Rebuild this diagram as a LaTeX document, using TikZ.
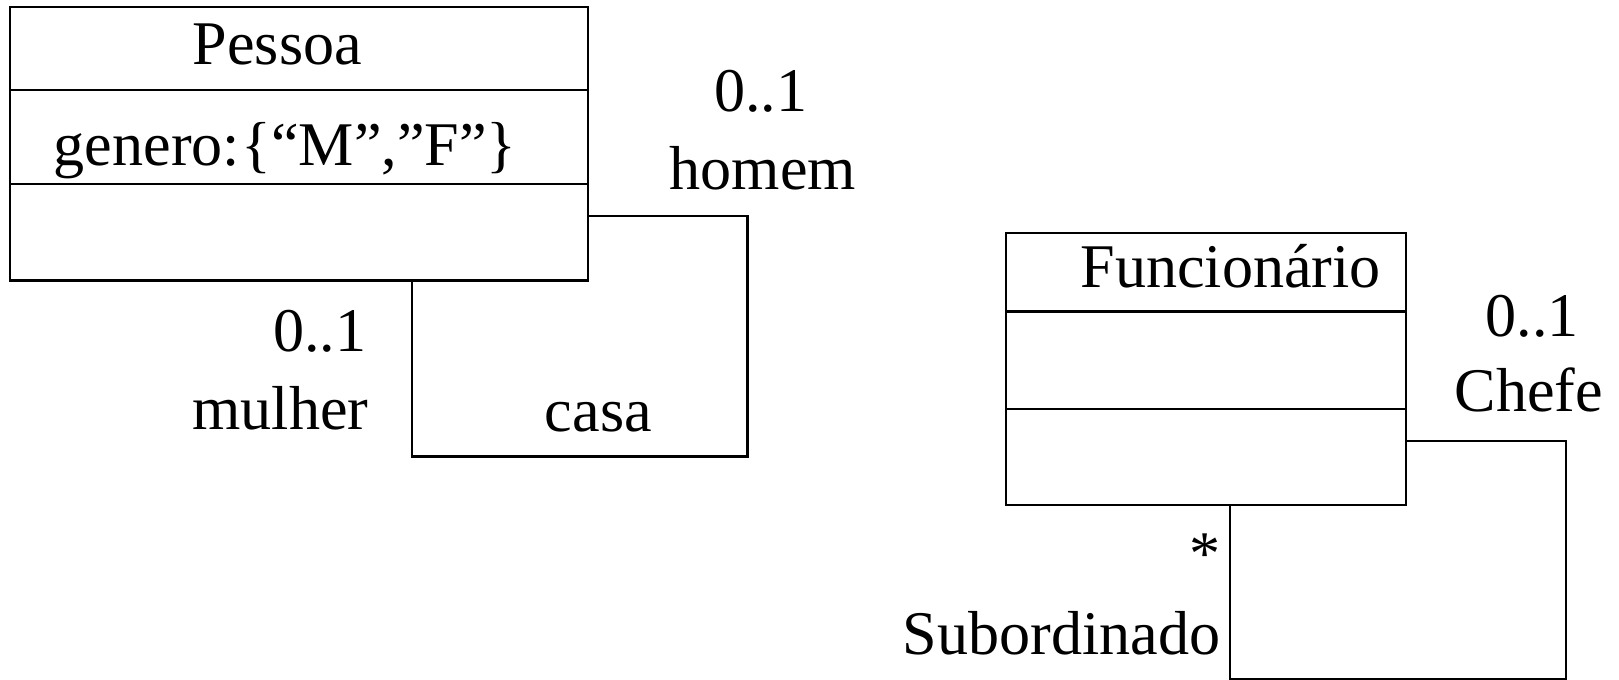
\documentclass[tikz,border=0pt]{standalone}
\usepackage{fontspec}
\setmainfont{Liberation Serif}
\begin{document}
\begin{tikzpicture}[x=0.75pt,y=-0.75pt,line width=1.6pt,
  txt/.style={font=\fontsize{45}{54}\selectfont,inner sep=0pt},
  classbox/.style={draw,inner sep=0pt,outer sep=0pt,anchor=north west}]
\useasboundingbox (0,0) rectangle (1564,656);
% Pessoa class
\node[classbox,minimum width=418.5pt,minimum height=198pt] (pessoa) at (10,7) {};
\draw (pessoa.west |- 0,87) -- (pessoa.east |- 0,87);
\draw (pessoa.west |- 0,178) -- (pessoa.east |- 0,178);
\node[txt,anchor=base] (pname) at (268,62) {Pessoa};
\node[txt,anchor=base west] (pattr) at (51,160) {genero:\kern1pt\{“M”,”F”\}};
% self association casa
\coordinate (c1) at (722,209);
\coordinate (c2) at (722,441);
\coordinate (c3) at (398,441);
\draw (pessoa.east |- c1) -- (c1) -- (c2) -- (c3) -- (c3 |- pessoa.south);
\node[txt,anchor=base] (m1) at (735,108) {0..1};
\node[txt,anchor=base] (r1) at (737,183) {homem};
\node[txt,anchor=base east] (m2) at (355,340) {0..1};
\node[txt,anchor=base east] (r2) at (357,415) {mulher};
\node[txt,anchor=base] (casa) at (578,417) {casa};
% Funcionario class
\node[classbox,minimum width=289.5pt,minimum height=197.25pt] (func) at (972,225) {};
\draw (func.west |- 0,301) -- (func.east |- 0,301);
\draw (func.west |- 0,395) -- (func.east |- 0,395);
\node[txt,anchor=base east] (fname) at (1335,278) {Funcionário};
% self association chefe
\coordinate (d1) at (1513,426);
\coordinate (d2) at (1513,656);
\coordinate (d3) at (1188,656);
\draw (func.east |- d1) -- (d1) -- (d2) -- (d3) -- (d3 |- func.south);
\node[txt,anchor=base] (m3) at (1480,325) {0..1};
\node[txt,anchor=base] (r3) at (1477,398) {Chefe};
\node[txt,anchor=base east] (m4) at (1180,555) {*};
\node[txt,anchor=base east] (r4) at (1180,632) {Subordinado};
\end{tikzpicture}
\end{document}
